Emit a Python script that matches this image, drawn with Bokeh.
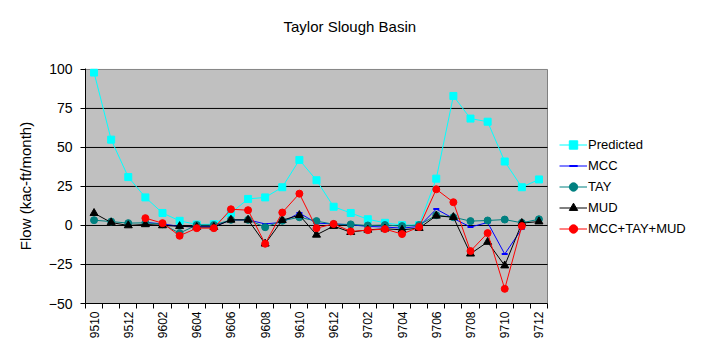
import math
from bokeh.plotting import figure
from bokeh.models import (Range1d, FixedTicker, Legend, LegendItem, CustomJSTickFormatter,
                          Title)
from bokeh.embed import file_html
from bokeh.resources import INLINE

nan = float("nan")

months = ["9510", "9511", "9512", "9601", "9602", "9603", "9604", "9605", "9606",
          "9607", "9608", "9609", "9610", "9611", "9612", "9701", "9702", "9703",
          "9704", "9705", "9706", "9707", "9708", "9709", "9710", "9711", "9712"]

predicted = [98, 55, 31, 18, 8, 3, 0.6, 0.8, 8, 17, 18, 24.5, 42, 29, 12, 8, 4, 1.7,
             0.2, 0.3, 30, 83, 68.5, 66.5, 41, 24.5, 29.5]
mcc = [nan, nan, nan, 2, 1, -0.6, -0.8, -0.8, 3.6, 3.6, 1, 2, 8, 1.5, 1, 0.4, -0.6, -1,
       -1.7, -0.6, 10.5, 4.5, -1, 1.9, -18.3, -2.1, nan]
tay = [3.4, 2.5, 1.5, 1.7, 0.8, -4.9, 0.3, 0.3, 3.6, 3.6, -1.1, 3, 5.3, 2.8, 0.8, 0.7, 0,
       0.3, -0.4, 0.3, 6.6, 5.3, 2.8, 3.2, 3.8, 1.7, 4.0]
mud = [7.9, 1.9, 0, 0.7, 0, -0.5, -1, -1, 3.6, 3.6, -11.7, 3.4, 6.6, -6, -0.4, -4.3, -2.8,
       -2.1, -2.8, -1.7, 6.2, 5.3, -18.1, -10.6, -25.7, 1.5, 2.5]
total = [nan, nan, nan, 4.7, 1.5, -6.6, -1.7, -1.7, 10.4, 9.8, -11.7, 8.3, 20.4, -1.7, 1,
         -3.8, -3, -2.3, -5.5, -1, 23.2, 14.9, -16.4, -4.9, -40.6, -0.4, nan]

y_ticks = [-50, -25, 0, 25, 50, 75, 100]
grid_ticks = [-25, 0, 25, 50, 75]

FONT = "Liberation Sans"

# layout (pixels)
W, H = 688, 342
LEFT, TOP, BOTTOM = 85, 68, 39
PLOT_W = 462                      # width of the grey plot area
FRAME_W = W - LEFT                # frame spans to the right edge (legend lives there)

n = len(months)
x = list(range(n))
x_lo, x_hi = -0.5, n - 0.5
x_end = x_lo + n * FRAME_W / PLOT_W

p = figure(width=W, height=H, output_backend="svg", toolbar_location=None,
           x_range=Range1d(x_lo, x_end), y_range=Range1d(y_ticks[0], y_ticks[-1] + 0.6),
           min_border_left=LEFT, min_border_right=0, min_border_top=TOP,
           min_border_bottom=BOTTOM)

p.background_fill_color = "white"
p.border_fill_color = "white"
p.outline_line_color = None

# spacer between the frame and the title, then the title itself
p.add_layout(Title(text=" ", text_font=FONT, text_font_size="15px", standoff=15), "above")
p.add_layout(Title(text="Taylor Slough Basin", text_font=FONT, text_font_size="15px",
                   text_font_style="normal", text_color="black", align="left",
                   offset=198, standoff=0), "above")

# x axis
p.xaxis.ticker = FixedTicker(ticks=[i for i in x if i % 2 == 0],
                             minor_ticks=[i - 0.5 for i in range(n + 1)])
p.xaxis.bounds = (x_lo, x_hi)
p.xaxis.formatter = CustomJSTickFormatter(args=dict(labels=months),
                                          code="return labels[Math.round(tick)] || '';")
p.xaxis.major_tick_out = 0
p.xaxis.major_tick_in = 0
p.xaxis.minor_tick_out = 5
p.xaxis.minor_tick_in = 0
p.xaxis.minor_tick_line_color = "black"
p.xaxis.axis_line_color = "black"
p.xaxis.major_label_orientation = math.pi / 2
p.xaxis.major_label_standoff = 3
p.xaxis.major_label_text_font = FONT
p.xaxis.major_label_text_font_size = "12px"
p.xaxis.major_label_text_color = "black"

# y axis
p.yaxis.ticker = FixedTicker(ticks=y_ticks, minor_ticks=[])
p.yaxis.major_tick_out = 5
p.yaxis.major_tick_in = 0
p.yaxis.major_tick_line_color = "black"
p.yaxis.axis_line_color = "black"
p.yaxis.major_label_standoff = 8
p.yaxis.major_label_text_font = FONT
p.yaxis.major_label_text_font_size = "14px"
p.yaxis.major_label_text_color = "black"
p.yaxis.axis_label = "Flow (kac-ft/month)"
p.yaxis.axis_label_text_font = FONT
p.yaxis.axis_label_text_font_size = "15px"
p.yaxis.axis_label_text_font_style = "normal"
p.yaxis.axis_label_text_color = "black"
p.yaxis.axis_label_standoff = 12

p.xgrid.visible = False
p.ygrid.visible = False

# grey plot area and horizontal gridlines, limited to the category span
p.quad(left=[x_lo], right=[x_hi], bottom=[y_ticks[0]], top=[y_ticks[-1]],
       fill_color="#C0C0C0", line_color="#808080", line_width=1)
p.segment(x0=[x_lo] * len(grid_ticks), x1=[x_hi] * len(grid_ticks),
          y0=grid_ticks, y1=grid_ticks, line_color="black", line_width=1)

items = []

l = p.line(x, predicted, line_color="#00FFFF", line_width=1)
s = p.scatter(x, predicted, marker="square", size=7, fill_color="#00FFFF", line_color="#00FFFF")
items.append(LegendItem(label="Predicted", renderers=[l, s]))

l = p.line(x, mcc, line_color="#0000FF", line_width=1)
s = p.scatter(x, mcc, marker="dash", size=6, line_color="#0000FF", line_width=2)
items.append(LegendItem(label="MCC", renderers=[l, s]))

l = p.line(x, tay, line_color="#008080", line_width=1)
s = p.scatter(x, tay, marker="circle", size=7, fill_color="#008080", line_color="#008080")
items.append(LegendItem(label="TAY", renderers=[l, s]))

l = p.line(x, mud, line_color="black", line_width=1)
s = p.scatter(x, mud, marker="triangle", size=8, fill_color="black", line_color="black")
items.append(LegendItem(label="MUD", renderers=[l, s]))

l = p.line(x, total, line_color="#FF0000", line_width=1)
s = p.scatter(x, total, marker="circle", size=7, fill_color="#FF0000", line_color="#FF0000")
items.append(LegendItem(label="MCC+TAY+MUD", renderers=[l, s]))

legend = Legend(items=items, location=(474, 64), orientation="vertical",
                glyph_width=28, glyph_height=21, label_height=21, label_standoff=1,
                spacing=0, padding=0, margin=0,
                border_line_alpha=0, background_fill_alpha=0,
                label_text_font=FONT, label_text_font_size="13px",
                label_text_color="black")
p.add_layout(legend, "center")

open("out.html", "w").write(file_html(p, INLINE))
